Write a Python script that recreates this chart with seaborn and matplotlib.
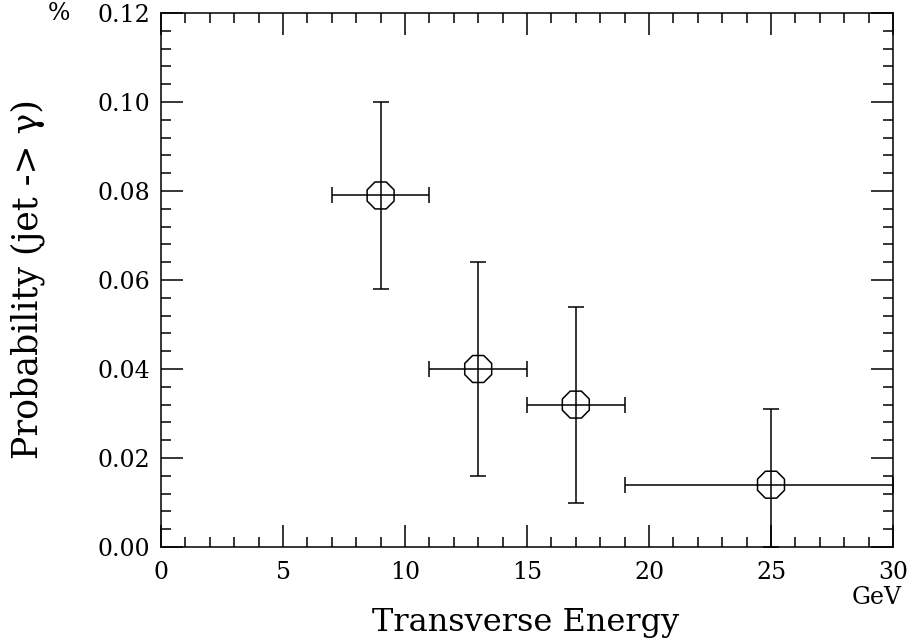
import matplotlib
matplotlib.use("Agg")
import matplotlib.pyplot as plt
from matplotlib.ticker import MultipleLocator, FormatStrFormatter
import seaborn as sns
import pandas as pd

# ---- data ----
energy = [9, 13, 17, 25]
prob = [0.079, 0.040, 0.032, 0.014]
energy_lo = [7, 11, 15, 19]
energy_hi = [11, 15, 19, 30]
prob_lo = [0.058, 0.016, 0.010, 0.0]
prob_hi = [0.100, 0.064, 0.054, 0.031]
x_ticks = [0, 5, 10, 15, 20, 25, 30]
y_ticks = [0.00, 0.02, 0.04, 0.06, 0.08, 0.10, 0.12]

sns.set_theme(style="ticks")
FONT = ["DejaVu Serif", "DejaVu Sans"]
plt.rcParams["font.family"] = FONT
plt.rcParams["axes.linewidth"] = 1.1
plt.rcParams["text.color"] = "black"
plt.rcParams["axes.labelcolor"] = "black"
plt.rcParams["xtick.color"] = "black"
plt.rcParams["ytick.color"] = "black"
plt.rcParams["axes.edgecolor"] = "black"

df = pd.DataFrame({"E": energy, "P": prob})

fig = plt.figure(figsize=(9.15, 6.43), dpi=100)
ax = fig.add_axes([161 / 915, 96 / 643, 732 / 915, 534 / 643])

xerr = [[e - lo for e, lo in zip(energy, energy_lo)],
        [hi - e for e, hi in zip(energy, energy_hi)]]
yerr = [[p - lo for p, lo in zip(prob, prob_lo)],
        [hi - p for p, hi in zip(prob, prob_hi)]]
ax.errorbar(energy, prob, xerr=xerr, yerr=yerr, fmt="none", ecolor="black",
            elinewidth=1.1, capsize=6, capthick=1.1, clip_on=True, zorder=2)

sns.scatterplot(data=df, x="E", y="P", ax=ax, marker="8", s=21 ** 2,
                facecolor="none", edgecolor="black", linewidth=1.1, zorder=3)

ax.set_xlim(0, 30)
ax.set_ylim(0, 0.12)
ax.set_xticks(x_ticks)
ax.set_yticks(y_ticks)
ax.xaxis.set_minor_locator(MultipleLocator(1))
ax.yaxis.set_minor_locator(MultipleLocator(0.004))
ax.yaxis.set_major_formatter(FormatStrFormatter("%.2f"))

ax.tick_params(which="both", direction="in", top=True, right=True,
               colors="black", labelcolor="black", width=1.1)
ax.tick_params(which="major", length=16, labelsize=17)
ax.tick_params(axis="x", which="major", pad=10)
ax.tick_params(axis="y", which="major", pad=8)
ax.tick_params(which="minor", length=7)

for s in ax.spines.values():
    s.set_color("black")

ax.set_xlabel("")
ax.set_ylabel("")
fig.text(526 / 915, 1 - 622 / 643, "Transverse Energy", ha="center", va="center",
         fontsize=23, family=FONT, color="black")
fig.text(28 / 915, 1 - 279 / 643, "Probability (jet -> γ)", ha="center", va="center",
         rotation=90, fontsize=25, family=FONT, color="black")
fig.text(877 / 915, 1 - 598 / 643, "GeV", ha="center", va="center",
         fontsize=17, family=FONT, color="black")
fig.text(59 / 915, 1 - 13 / 643, "%", ha="center", va="center",
         fontsize=17, family=FONT, color="black")

fig.savefig("out.png", dpi=100, facecolor="white")
